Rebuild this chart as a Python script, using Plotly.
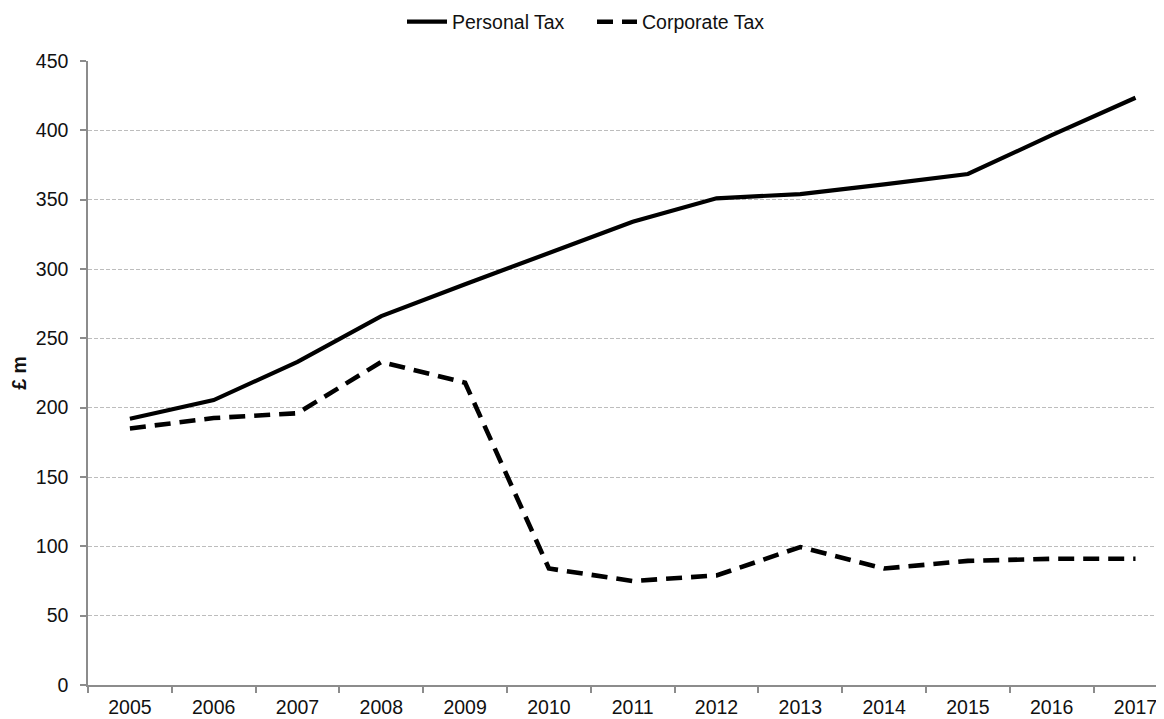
import plotly.graph_objects as go

years = ["2005", "2006", "2007", "2008", "2009", "2010", "2011", "2012", "2013", "2014", "2015", "2016", "2017"]
personal_tax = [192, 205.5, 233, 266, 289, 311.5, 334, 351, 354, 361, 368.5, 396.5, 423.5]
corporate_tax = [185, 192.5, 196, 233, 218, 84, 75, 79, 99.5, 84, 89.5, 91, 91]

FONT = "Liberation Sans, Arial, sans-serif"
FS = 19.5
W, H = 1156, 711

fig = go.Figure()
fig.add_trace(go.Scatter(x=years, y=personal_tax, mode="lines", name="Personal Tax",
                         line=dict(color="black", width=4.2)))
fig.add_trace(go.Scatter(x=years, y=corporate_tax, mode="lines", name="Corporate Tax",
                         line=dict(color="black", width=4.6, dash="16px,9px")))

fig.update_layout(
    width=W, height=H,
    paper_bgcolor="white", plot_bgcolor="white",
    margin=dict(l=80, r=0, t=53, b=34, autoexpand=False),
    font=dict(family=FONT, size=FS, color="#111"),
    legend=dict(orientation="h", x=(402 - 8) / W, xanchor="left", xref="container", yref="container",
                y=1 - 14 / H, yanchor="middle", entrywidth=135, entrywidthmode="pixels",
                font=dict(size=FS), itemwidth=40, tracegroupgap=0,
                bgcolor="rgba(0,0,0,0)"),
    showlegend=True,
)

fig.update_xaxes(type="category", range=[-0.5, 12.34], showgrid=False, automargin=False,
                 showline=True, linecolor="#8c8c8c", linewidth=1.5,
                 ticks="outside", tickson="boundaries", ticklen=6, tickcolor="#8c8c8c",
                 tickwidth=1.5, ticklabelstandoff=4,
                 tickfont=dict(size=FS, family=FONT, color="#111"))
fig.update_yaxes(range=[0, 450], dtick=50, showgrid=True, gridcolor="#bdbdbd",
                 griddash="4px,2px", gridwidth=1, automargin=False,
                 showline=True, linecolor="#8c8c8c", linewidth=1.5,
                 ticks="outside", ticklen=6, tickcolor="#8c8c8c", tickwidth=1.5,
                 ticklabelstandoff=8,
                 tickfont=dict(size=FS, family=FONT, color="#111"),
                 title=dict(text="<b>£ m</b>", font=dict(size=FS, family=FONT, color="#111"), standoff=14),
                 zeroline=False)

fig.write_html("out.html")
